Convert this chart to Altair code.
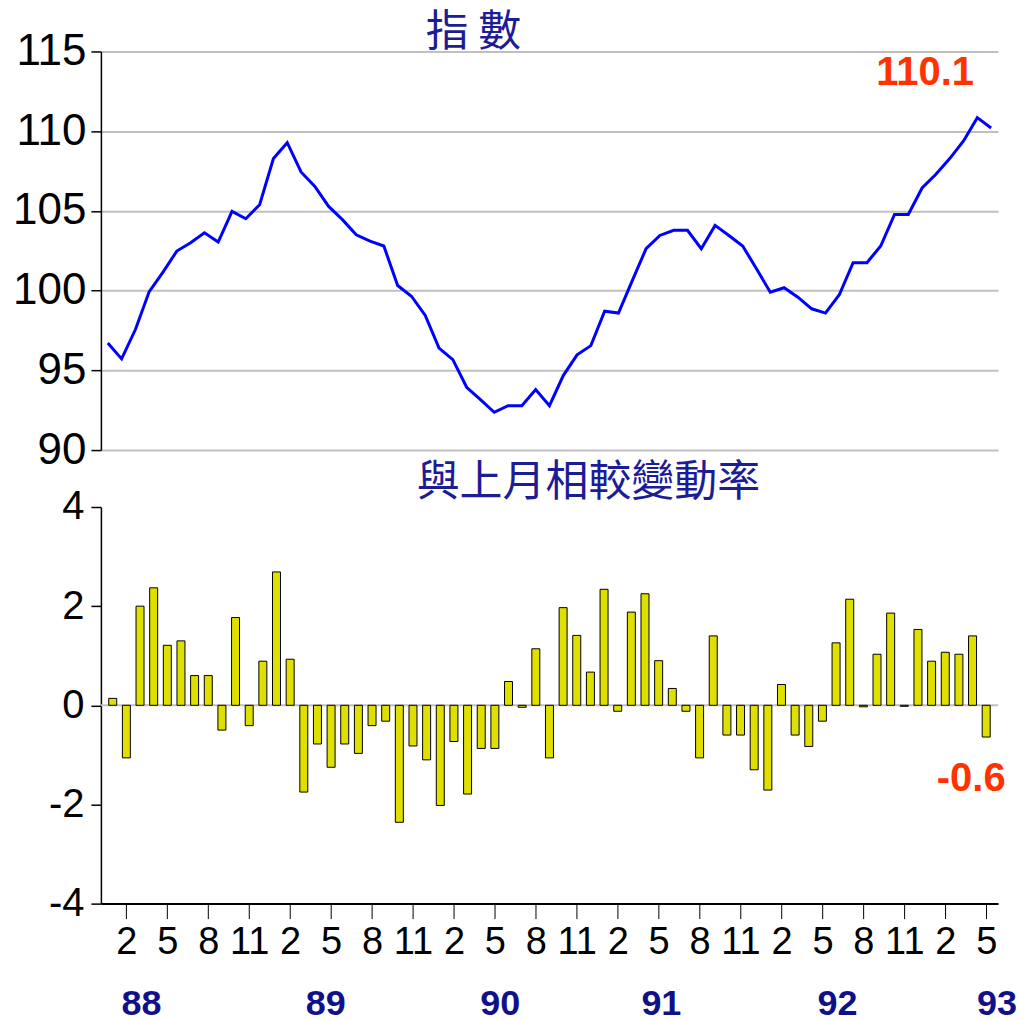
import json
import altair as alt
import pandas as pd

# ---- data -------------------------------------------------------------
years = [88, 89, 90, 91, 92, 93]
periods = [f"{y}/{m}" for y in years for m in range(1, 13)][:65]   # 88/1 ... 93/5

index_values = [
    96.72, 95.72, 97.56, 99.94, 101.16, 102.48, 103.00, 103.63, 103.05, 104.97, 104.51, 105.39,
    108.28, 109.28, 107.44, 106.54, 105.28, 104.45, 103.50, 103.10, 102.80, 100.32, 99.65, 98.44,
    96.39, 95.67, 93.94, 93.16, 92.37, 92.78, 92.78, 93.79, 92.78, 94.67, 95.97, 96.55,
    98.71, 98.59, 100.63, 102.63, 103.46, 103.78, 103.78, 102.63, 104.09, 103.46, 102.80, 101.37,
    99.90, 100.18, 99.59, 98.86, 98.59, 99.74, 101.75, 101.75, 102.80, 104.78, 104.78, 106.44,
    107.30, 108.28, 109.39, 110.85, 110.20,
]

change_values = [
    0.14, -1.06, 2.00, 2.37, 1.21, 1.30, 0.60, 0.60, -0.50, 1.77, -0.41, 0.89,
    2.69, 0.93, -1.75, -0.78, -1.25, -0.78, -0.97, -0.41, -0.32, -2.36, -0.82, -1.10,
    -2.02, -0.73, -1.79, -0.87, -0.87, 0.48, -0.04, 1.14, -1.06, 1.97, 1.41, 0.67,
    2.34, -0.12, 1.88, 2.25, 0.90, 0.34, -0.12, -1.06, 1.40, -0.60, -0.60, -1.30,
    -1.71, 0.42, -0.60, -0.83, -0.32, 1.26, 2.14, -0.03, 1.03, 1.86, -0.02, 1.53,
    0.89, 1.07, 1.03, 1.40, -0.64,
]

tick_positions = [1, 4, 7, 10, 13, 16, 19, 22, 25, 28, 31, 34, 37, 40, 43, 46, 49, 52, 55, 58, 61, 64]
tick_labels = ["2", "5", "8", "11"] * 5 + ["2", "5"]

year_labels = ["88", "89", "90", "91", "92", "93"]
year_label_pos = [2.1, 15.6, 28.4, 40.2, 53.1, 64.8]

top_ticks = [90, 95, 100, 105, 110, 115]
bottom_ticks = [-4, -2, 0, 2, 4]

top_note = "110.1"
bottom_note = "-0.6"

top_title = "指 數"
bottom_title = "與上月相較變動率"

# ---- frames -----------------------------------------------------------
df = pd.DataFrame({
    "idx": list(range(len(periods))),
    "period": periods,
    "index": index_values,
    "change": change_values,
})
last = len(periods) - 1
top_note_df = pd.DataFrame({"idx": [last], "index": [index_values[-1]], "label": [top_note]})
bot_note_df = pd.DataFrame({"idx": [last], "change": [change_values[-1]], "label": [bottom_note]})
year_df = pd.DataFrame({"pos": year_label_pos, "label": year_labels})
zero_df = pd.DataFrame({"change": [0]})

# ---- styling ----------------------------------------------------------
W = 898
H_TOP = 399
H_BOT = 397
NUM_FONT = "Liberation Sans"
CJK_FONT = "Noto Sans CJK TC"
NAVY = "#1c1c96"
YEAR_NAVY = "#10108a"
RED = "#ff3300"
GRID = "#c0c0c0"

xscale = alt.Scale(domain=[-0.5, last + 0.5], nice=False, zero=False)
hyphen_expr = "datum.value < 0 ? '-' + abs(datum.value) : '' + datum.value"

# ---- top panel --------------------------------------------------------
line = alt.Chart(df).mark_line(color="#0000ff", strokeWidth=3).encode(
    x=alt.X("idx:Q", scale=xscale, axis=None),
    y=alt.Y(
        "index:Q",
        scale=alt.Scale(domain=[90, 115], nice=False, zero=False),
        axis=alt.Axis(
            values=top_ticks, title=None, grid=True, gridColor=GRID, gridWidth=2,
            labelFont=NUM_FONT, labelFontSize=44, labelColor="black", labelPadding=5,
            tickSize=10, tickColor="black", tickWidth=1.5,
            domainColor="black", domainWidth=1.5, minExtent=93,
        ),
    ),
)
top_text = alt.Chart(top_note_df).mark_text(
    font=NUM_FONT, fontSize=40, fontWeight="bold", color=RED,
    align="center", baseline="middle", dx=-66, dy=-55,
).encode(x=alt.X("idx:Q", scale=xscale), y=alt.Y("index:Q"), text="label:N")

top = alt.layer(line, top_text).properties(
    width=W, height=H_TOP,
    title=alt.TitleParams(top_title, font=CJK_FONT, fontSize=43, fontWeight="normal",
                          color=NAVY, anchor="middle", dx=-76, offset=-26),
)

# ---- bottom panel -----------------------------------------------------
label_expr = f"{json.dumps(tick_labels)}[(datum.value - 1) / 3]"

yb = alt.Scale(domain=[-4, 4], nice=False, zero=False)

zero_rule = alt.Chart(zero_df).mark_rule(color=GRID, strokeWidth=2).encode(
    y=alt.Y("change:Q", scale=yb)
)
bars = alt.Chart(df).mark_bar(
    width=8, color="#e0e000", stroke="black", strokeWidth=1
).encode(
    x=alt.X(
        "idx:Q", scale=xscale,
        axis=alt.Axis(
            values=tick_positions, labelExpr=label_expr, title=None, grid=False,
            labelFont=NUM_FONT, labelFontSize=38, labelColor="black", labelPadding=5,
            labelFlush=False, labelOverlap=False, labelBound=False,
            tickSize=15, tickColor="black", tickWidth=1,
            domainColor="black", domainWidth=2,
        ),
    ),
    y=alt.Y(
        "change:Q", scale=yb,
        axis=alt.Axis(
            values=bottom_ticks, labelExpr=hyphen_expr, title=None, grid=False,
            labelFont=NUM_FONT, labelFontSize=40, labelColor="black", labelPadding=7,
            tickSize=10, tickColor="black", tickWidth=1.5,
            domainColor="black", domainWidth=1.5, minExtent=93,
        ),
    ),
)
bot_text = alt.Chart(bot_note_df).mark_text(
    font=NUM_FONT, fontSize=40, fontWeight="bold", color=RED,
    align="center", baseline="middle", dx=-15, dy=42,
).encode(x=alt.X("idx:Q", scale=xscale), y=alt.Y("change:Q", scale=yb), text="label:N")

year_text = alt.Chart(year_df).mark_text(
    font=NUM_FONT, fontSize=36, fontWeight="bold", color=YEAR_NAVY,
    align="center", baseline="middle",
).encode(x=alt.X("pos:Q", scale=xscale), y=alt.value(497), text="label:N")

bottom = alt.layer(zero_rule, bars, bot_text, year_text).properties(
    width=W, height=H_BOT,
    title=alt.TitleParams(bottom_title, font=CJK_FONT, fontSize=43, fontWeight="normal",
                          color=NAVY, anchor="middle", dx=39, offset=-18),
)

chart = alt.vconcat(top, bottom, spacing=-10).properties(
    padding={"left": 0, "top": 4, "right": 0, "bottom": 0},
    background="white",
).configure_view(stroke=None)

chart.save("out.html", embed_options={"renderer": "svg", "actions": False})
